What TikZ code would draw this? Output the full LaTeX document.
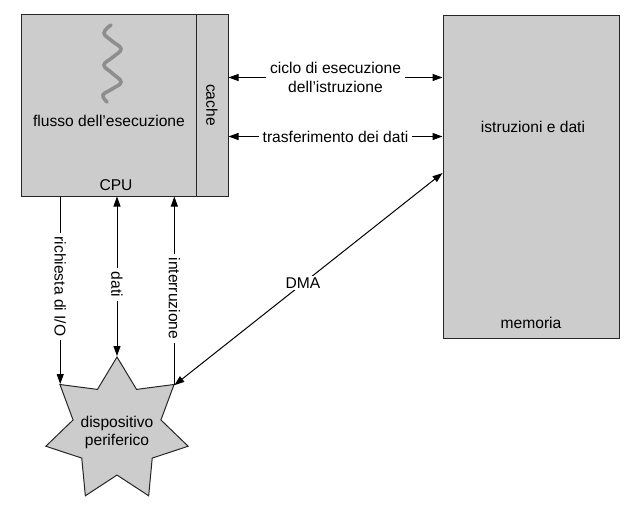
\documentclass[tikz,border=0pt]{standalone}
\usepackage{fontspec}
\setmainfont{Liberation Sans}
\usetikzlibrary{arrows.meta,shapes.geometric}
\definecolor{boxgray}{HTML}{CCCCCC}
\definecolor{wavegray}{HTML}{8E8E8E}
\begin{document}
\begin{tikzpicture}[x=1pt,y=-1pt,
  every node/.style={font=\fontsize{15.6}{18.5}\selectfont},
  box/.style={draw=black!85,line width=1pt,fill=boxgray,inner sep=0pt},
  conn/.style={line width=1pt,draw=black},
  tip/.style={-{Triangle[length=10pt,width=7pt]}},
  tips/.style={{Triangle[length=10pt,width=7pt]}-{Triangle[length=10pt,width=7pt]}},
  lbl/.style={fill=white,inner xsep=4pt,inner ysep=1.5pt,align=center},
  vlbl/.style={fill=white,inner xsep=4pt,inner ysep=1.5pt,rotate=-90}]
\useasboundingbox (0,0) rectangle (629,514);
% CPU and cache
\node[box,minimum width=175pt,minimum height=182pt] (cpu) at (108.5,105) {};
\node[box,minimum width=32pt,minimum height=182pt] (cache) at (212,105) {};
\node[rotate=-90] (cachelbl) at (cache.center) {cache};
\node (cpulbl) at (116,185) {CPU};
\node (flusso) at (109,121) {flusso dell’esecuzione};
\draw[wavegray,line width=3.6pt,line cap=round] plot[smooth,tension=0.7] coordinates
  {(111,25) (104,33) (112,41) (121,49) (113,57) (104,65) (112,73) (121,82) (112,89) (103,95) (107,102)};
% memory
\node[box,minimum width=176pt,minimum height=323pt] (mem) at (531,176.5) {};
\node (istr) at (533,127) {istruzioni e dati};
\node (memlbl) at (531,323) {memoria};
% device
\node[box,star,star points=7,star point ratio=1.62,minimum size=146pt] (dev) at (117,430) {};
\node[align=center,font=\fontsize{15.6}{18}\selectfont] (devlbl) at (117,432) {dispositivo\\periferico};
% CPU <-> memory
\draw[conn,tips] ([yshift=-64pt]cache.north east) -- ([yshift=-64pt]cache.north east -| mem.west)
  node[lbl,midway] {ciclo di esecuzione\\dell’istruzione};
\draw[conn,tips] ([yshift=-123pt]cache.north east) -- ([yshift=-123pt]cache.north east -| mem.west)
  node[lbl,midway] {trasferimento dei dati};
% CPU <-> device
\draw[conn,tip] (dev.141.43 |- cpu.south) -- (dev.141.43) node[vlbl,pos=0.48] {richiesta di I/O};
\draw[conn,tips] (dev.north |- cpu.south) -- (dev.north) node[vlbl,pos=0.55] {dati};
\draw[conn,tip] (dev.38.57) -- (dev.38.57 |- cpu.south) node[vlbl,pos=0.46] {interruzione};
% DMA
\draw[conn,tips] (dev.38.57) -- ([yshift=3.5pt]mem.west) node[lbl,pos=0.48] {DMA};
\end{tikzpicture}
\end{document}
